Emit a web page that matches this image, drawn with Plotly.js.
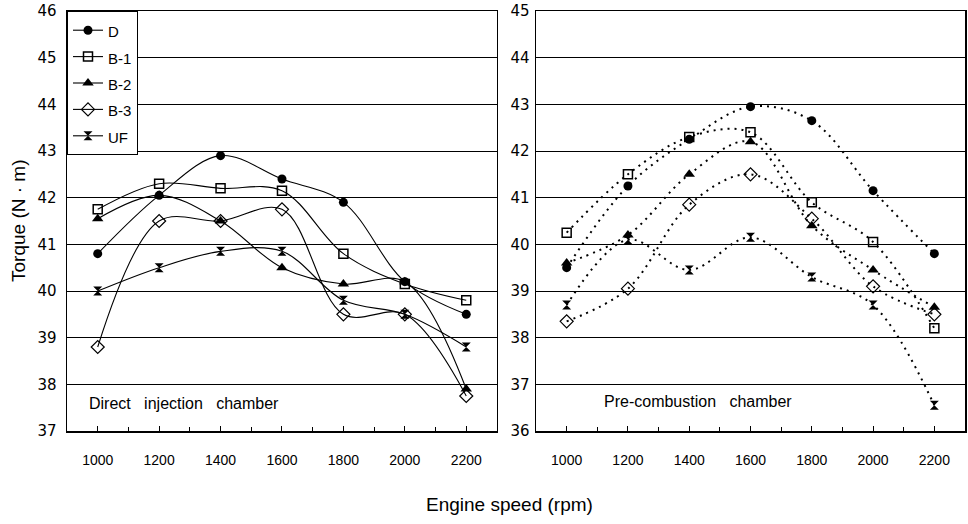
<!DOCTYPE html>
<html>
<head>
<meta charset="utf-8">
<script src="https://cdn.plot.ly/plotly-3.0.1.min.js"></script>
<style>
html,body{margin:0;padding:0;background:#fff;}
#chart{width:968px;height:524px;}
</style>
</head>
<body>
<div id="chart"></div>
<script>
// Engine speed (rpm)
const speeds = [1000, 1200, 1400, 1600, 1800, 2000, 2200];
const seriesNames = ['D', 'B-1', 'B-2', 'B-3', 'UF'];

// Direct injection chamber, torque (N·m)
const diD  = [40.8, 42.05, 42.9, 42.4, 41.9, 40.2, 39.5];
const diB1 = [41.75, 42.3, 42.2, 42.15, 40.8, 40.15, 39.8];
const diB2 = [41.55, 42.05, 41.5, 40.5, 40.15, 40.2, 37.9];
const diB3 = [38.8, 41.5, 41.5, 41.75, 39.5, 39.5, 37.75];
const diUF = [40.0, 40.5, 40.85, 40.85, 39.8, 39.5, 38.8];

// Pre-combustion chamber, torque (N·m)
const pcD  = [39.5, 41.25, 42.25, 42.95, 42.65, 41.15, 39.8];
const pcB1 = [40.25, 41.5, 42.3, 42.4, 40.9, 40.05, 38.2];
const pcB2 = [39.6, 40.2, 41.5, 42.2, 40.4, 39.45, 38.65];
const pcB3 = [38.35, 39.05, 40.85, 41.5, 40.55, 39.1, 38.5];
const pcUF = [38.7, 40.1, 39.45, 40.15, 39.3, 38.7, 36.55];

const xTickVals = [1000, 1200, 1400, 1600, 1800, 2000, 2200];
const xTickText = ['1000', '1200', '1400', '1600', '1800', '2000', '2200'];

const markerStyles = [
  {symbol: 'circle', size: 9, color: 'black'},
  {symbol: 'square-open', size: 9, color: 'black', line: {color: 'black', width: 1.5}},
  {symbol: 'triangle-up', size: 10, color: 'black'},
  {symbol: 'diamond-open', size: 10, color: 'black', line: {color: 'black', width: 1.2}},
  {symbol: 'hourglass', size: 9, color: 'black'}
];

const diData = [diD, diB1, diB2, diB3, diUF];
const pcData = [pcD, pcB1, pcB2, pcB3, pcUF];

const traces = [];
diData.forEach((ys, i) => {
  traces.push({
    type: 'scatter', mode: 'lines+markers',
    x: speeds, y: ys,
    name: '<span style="font-size:15px">' + seriesNames[i] + '</span>',
    xaxis: 'x', yaxis: 'y',
    line: {color: 'black', width: 1.1, shape: 'spline', smoothing: 1},
    marker: markerStyles[i],
    showlegend: true
  });
});
pcData.forEach((ys, i) => {
  traces.push({
    type: 'scatter', mode: 'lines+markers',
    x: speeds, y: ys,
    name: seriesNames[i],
    xaxis: 'x2', yaxis: 'y2',
    line: {color: 'black', width: 2, dash: '2px,5px', shape: 'spline', smoothing: 1},
    marker: markerStyles[i],
    showlegend: false
  });
});

const fontFam = '"Liberation Sans", Arial, sans-serif';

const xCommon = {
  range: [900, 2300],
  tickmode: 'array', tickvals: xTickVals, ticktext: xTickText,
  ticks: 'inside', ticklen: 5, tickcolor: 'black', tickwidth: 1,
  minor: {dtick: 100, tick0: 1000, ticks: 'inside', ticklen: 4, tickcolor: 'black', showgrid: false},
  showline: true, linecolor: 'black', linewidth: 1.5, mirror: true,
  showgrid: false, zeroline: false,
  tickfont: {family: fontFam, size: 14, color: 'black'},
  ticklabelstandoff: 16
};
const yCommon = {
  dtick: 1,
  ticks: '', showline: true, linecolor: 'black', linewidth: 1.5, mirror: true,
  showgrid: true, gridcolor: 'black', gridwidth: 1, zeroline: false,
  tickfont: {family: '"DejaVu Sans", sans-serif', size: 15, color: 'black'}
};

const layout = {
  width: 968, height: 524,
  paper_bgcolor: 'white', plot_bgcolor: 'white',
  margin: {l: 67, r: 3, t: 11, b: 93},
  font: {family: fontFam, color: 'black'},
  xaxis: Object.assign({}, xCommon, {domain: [0, 0.4788], anchor: 'y'}),
  xaxis2: Object.assign({}, xCommon, {domain: [0.5223, 1], anchor: 'y2'}),
  yaxis: Object.assign({}, yCommon, {range: [37, 46], domain: [0, 1], anchor: 'x', ticklabelstandoff: 6}),
  yaxis2: Object.assign({}, yCommon, {range: [36, 45], domain: [0, 1], anchor: 'x2', ticklabelstandoff: 2}),
  showlegend: true,
  legend: {
    x: 0, y: 1, xanchor: 'left', yanchor: 'top',
    bgcolor: 'white', bordercolor: 'black', borderwidth: 1,
    font: {family: fontFam, size: 18, color: 'black'},
    itemwidth: 30, tracegroupgap: 0
  },
  annotations: [
    {xref: 'x', yref: 'y', x: 965, y: 37.6, xanchor: 'left', yanchor: 'middle', showarrow: false,
     text: 'Direct&nbsp;&nbsp; injection&nbsp;&nbsp; chamber', font: {family: fontFam, size: 16, color: 'black'}},
    {xref: 'x2', yref: 'y2', x: 1116, y: 36.64, xanchor: 'left', yanchor: 'middle', showarrow: false,
     text: 'Pre-combustion&nbsp;&nbsp; chamber', font: {family: fontFam, size: 16, color: 'black'}},
    {xref: 'paper', yref: 'paper', x: 0.493, y: -0.176, xanchor: 'center', yanchor: 'middle', showarrow: false,
     text: 'Engine speed (rpm)', font: {family: fontFam, size: 19, color: 'black'}},
    {xref: 'paper', yref: 'paper', x: -0.0546, y: 0.5, xanchor: 'center', yanchor: 'middle', showarrow: false,
     textangle: -90, text: 'Torque (N · m)', font: {family: fontFam, size: 19, color: 'black'}}
  ]
};

Plotly.newPlot('chart', traces, layout, {displayModeBar: false, staticPlot: true});
</script>
</body>
</html>
